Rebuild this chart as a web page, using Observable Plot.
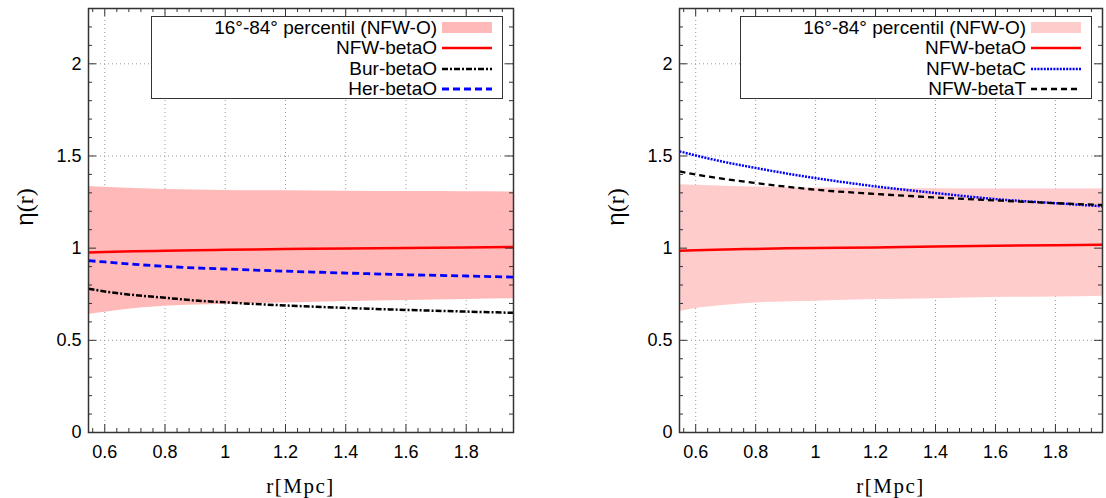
<!DOCTYPE html>
<html><head><meta charset="utf-8">
<script src="https://cdn.jsdelivr.net/npm/d3@7"></script>
<script src="https://cdn.jsdelivr.net/npm/@observablehq/plot@0.6"></script>
<style>
body{margin:0;background:#fff;}
#wrap{position:relative;width:1106px;height:498px;overflow:hidden;font-family:"Liberation Sans",Arial,sans-serif;}
.panel{position:absolute;top:0;}
.legend{position:absolute;top:16px;width:352px;height:83px;border:1.5px solid #333;background:#fff;box-sizing:border-box;}
.row{position:absolute;left:0;width:285px;height:20px;line-height:20px;text-align:right;font-size:19px;color:#000;white-space:nowrap;}
.sw{position:absolute;left:290px;width:52px;height:20px;}
.ylab{position:absolute;top:207px;font-size:24px;transform:translate(-50%,-50%) rotate(-90deg);white-space:nowrap;}
.ylab .s{font-family:"Liberation Serif",serif;}
.xlab{position:absolute;top:474px;font-family:"Liberation Serif",serif;font-size:21px;letter-spacing:1.5px;transform:translateX(-50%);white-space:nowrap;}
</style></head>
<body><div id="wrap"></div>
<script>
// radii (Mpc) at which values were read
const r = [0.546, 0.6, 0.7, 0.8, 0.9, 1.0, 1.2, 1.4, 1.6, 1.8, 1.957];

// Left panel
const L_bandLo = [0.640, 0.652, 0.672, 0.685, 0.691, 0.696, 0.703, 0.710, 0.716, 0.722, 0.726];
const L_bandHi = [1.335, 1.330, 1.323, 1.318, 1.315, 1.313, 1.311, 1.309, 1.307, 1.306, 1.305];
const L_nfwO   = [0.977, 0.979, 0.983, 0.986, 0.989, 0.991, 0.995, 0.998, 1.001, 1.004, 1.006];
const L_burO   = [0.780, 0.765, 0.745, 0.731, 0.716, 0.706, 0.689, 0.676, 0.665, 0.656, 0.649];
const L_herO   = [0.932, 0.925, 0.912, 0.901, 0.893, 0.887, 0.875, 0.865, 0.856, 0.849, 0.843];

// Right panel
const R_bandLo = [0.656, 0.672, 0.690, 0.703, 0.708, 0.712, 0.721, 0.726, 0.732, 0.735, 0.739];
const R_bandHi = [1.344, 1.341, 1.336, 1.332, 1.328, 1.326, 1.324, 1.322, 1.321, 1.321, 1.321];
const R_nfwO   = [0.986, 0.989, 0.993, 0.996, 0.999, 1.001, 1.004, 1.009, 1.013, 1.016, 1.019];
const R_nfwC   = [1.525, 1.503, 1.466, 1.435, 1.406, 1.380, 1.335, 1.299, 1.266, 1.244, 1.227];
const R_nfwT   = [1.416, 1.400, 1.374, 1.353, 1.334, 1.317, 1.294, 1.275, 1.259, 1.244, 1.234];

// ticks
const xMajor = [0.6, 0.8, 1, 1.2, 1.4, 1.6, 1.8];
const yMajor = [0, 0.5, 1, 1.5, 2];
const xMinor = d3.range(0.56, 1.96, 0.04);
const yMinor = d3.range(0.1, 2.3, 0.1);

const bandLabel = "16°-84° percentil (NFW-O)";
const leftSeries = [
  {name: "NFW-betaO", values: L_nfwO, stroke: "#ff0000", width: 2.5, dash: null},
  {name: "Bur-betaO", values: L_burO, stroke: "#000000", width: 2.5, dash: "6,2,2,2"},
  {name: "Her-betaO", values: L_herO, stroke: "#0000ff", width: 2.8, dash: "7,4"}
];
const rightSeries = [
  {name: "NFW-betaO", values: R_nfwO, stroke: "#ff0000", width: 2.5, dash: null},
  {name: "NFW-betaC", values: R_nfwC, stroke: "#0000ff", width: 2.5, dash: "2,1.2"},
  {name: "NFW-betaT", values: R_nfwT, stroke: "#000000", width: 2.3, dash: "6,4"}
];

const wrap = document.getElementById("wrap");
const H = 498, MT = 8, MB = 66;

function makePanel({left, width, ml, mr, bandLo, bandHi, bandFill, series}) {
  const iw = width - ml - mr, ih = H - MT - MB;
  const band = r.map((d, i) => ({r: d, lo: bandLo[i], hi: bandHi[i]}));
  const lineMarks = series.map(s => Plot.line(r.map((d, i) => ({r: d, v: s.values[i]})), {
    x: "r", y: "v", stroke: s.stroke, strokeWidth: s.width,
    strokeDasharray: s.dash || undefined, strokeLinecap: "butt", curve: "monotone-x"
  }));
  const isMajX = d => xMajor.some(m => Math.abs(m - d) < 1e-6);
  const isMajY = d => yMajor.some(m => Math.abs(m - d) < 1e-6);
  const xm = xMinor.filter(d => !isMajX(d));
  const ym = yMinor.filter(d => !isMajY(d));
  const tk = {stroke: "#333", strokeWidth: 1};
  const svg = Plot.plot({
    width, height: H, marginLeft: ml, marginRight: mr, marginTop: MT, marginBottom: MB,
    x: {domain: [0.546, 1.957]},
    y: {domain: [0, 2.3]},
    style: {fontFamily: "'Liberation Sans', Arial, sans-serif", fontSize: "18px", color: "#000", background: "transparent", overflow: "visible"},
    marks: [
      Plot.gridX(xMajor, {stroke: "#999", strokeOpacity: 1, strokeDasharray: "1,3"}),
      Plot.gridY(yMajor, {stroke: "#999", strokeOpacity: 1, strokeDasharray: "1,3"}),
      Plot.areaY(band, {x: "r", y1: "lo", y2: "hi", fill: bandFill, fillOpacity: 1, curve: "monotone-x"}),
      ...lineMarks,
      // inward ticks: major
      Plot.ruleX(xMajor, {x: d => d, insetTop: ih - 8, ...tk}),
      Plot.ruleX(xMajor, {x: d => d, insetBottom: ih - 8, ...tk}),
      Plot.ruleY(yMajor, {y: d => d, insetRight: iw - 8, ...tk}),
      Plot.ruleY(yMajor, {y: d => d, insetLeft: iw - 8, ...tk}),
      // inward ticks: minor
      Plot.ruleX(xm, {x: d => d, insetTop: ih - 4, ...tk}),
      Plot.ruleX(xm, {x: d => d, insetBottom: ih - 4, ...tk}),
      Plot.ruleY(ym, {y: d => d, insetRight: iw - 4, ...tk}),
      Plot.ruleY(ym, {y: d => d, insetLeft: iw - 4, ...tk}),
      Plot.frame({stroke: "#333", strokeWidth: 1.5}),
      Plot.axisX(xMajor, {tickSize: 0, tickPadding: 13, tickFormat: d => String(d), label: null}),
      Plot.axisY(yMajor, {tickSize: 0, tickPadding: 7, tickFormat: d => String(d), label: null})
    ]
  });
  const div = document.createElement("div");
  div.className = "panel";
  div.style.left = left + "px";
  div.appendChild(svg);
  wrap.appendChild(div);

  // legend (inside frame, top right)
  const frameLeft = left + ml, frameRight = left + width - mr;
  const lg = document.createElement("div");
  lg.className = "legend";
  lg.style.left = (frameRight - 362) + "px";
  const rows = [{name: bandLabel, band: true}, ...series];
  rows.forEach((s, i) => {
    const top = 1 + i * 20.3;
    const t = document.createElement("div");
    t.className = "row"; t.style.top = top + "px"; t.textContent = s.name;
    lg.appendChild(t);
    const sw = document.createElementNS("http://www.w3.org/2000/svg", "svg");
    sw.setAttribute("class", "sw"); sw.setAttribute("width", 52); sw.setAttribute("height", 20);
    sw.style.top = top + "px";
    if (s.band) {
      sw.innerHTML = `<rect x="0" y="4" width="50" height="11" fill="${bandFill}"/>`;
    } else {
      sw.innerHTML = `<line x1="0" x2="50" y1="10" y2="10" stroke="${s.stroke}" stroke-width="${s.width}" ${s.dash ? `stroke-dasharray="${s.dash}"` : ""}/>`;
    }
    lg.appendChild(sw);
  });
  wrap.appendChild(lg);

  // axis labels
  const yl = document.createElement("div");
  yl.className = "ylab"; yl.style.left = (frameLeft - 63) + "px";
  yl.innerHTML = 'η<span class="s">(r)</span>';
  wrap.appendChild(yl);
  const xl = document.createElement("div");
  xl.className = "xlab"; xl.style.left = ((frameLeft + frameRight) / 2) + "px";
  xl.textContent = "r[Mpc]";
  wrap.appendChild(xl);
}

makePanel({left: 0, width: 553, ml: 88, mr: 40, bandLo: L_bandLo, bandHi: L_bandHi, bandFill: "#ffb9b9", series: leftSeries});
makePanel({left: 553, width: 553, ml: 126, mr: 4, bandLo: R_bandLo, bandHi: R_bandHi, bandFill: "#ffcccc", series: rightSeries});
</script>
</body></html>
